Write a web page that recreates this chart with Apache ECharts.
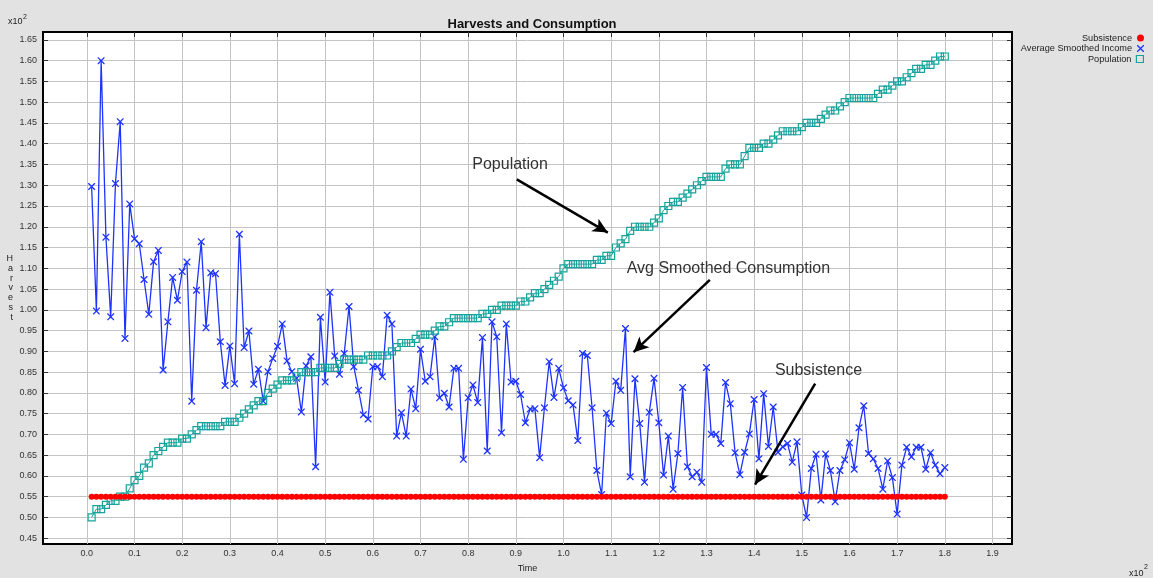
<!DOCTYPE html>
<html>
<head>
<meta charset="utf-8">
<title>Harvests and Consumption</title>
<script src="https://cdn.jsdelivr.net/npm/echarts@6.0.0/dist/echarts.min.js"></script>
<style>
  html, body { margin: 0; padding: 0; background: #e2e2e2; }
  #harvests { width: 1153px; height: 578px; }
</style>
</head>
<body>
<div id="harvests"></div>
<script>
// tick labels (axis units are x10^2)
const xTicks = [0, 0.1, 0.2, 0.3, 0.4, 0.5, 0.6, 0.7, 0.8, 0.9, 1.0, 1.1, 1.2, 1.3, 1.4, 1.5, 1.6, 1.7, 1.8, 1.9];
const yTicks = [0.45, 0.5, 0.55, 0.6, 0.65, 0.7, 0.75, 0.8, 0.85, 0.9, 0.95, 1.0, 1.05, 1.1, 1.15, 1.2, 1.25,
  1.3, 1.35, 1.4, 1.45, 1.5, 1.55, 1.6, 1.65];

// one sample per time step, t = 1..180 (x10^2 -> 0.01..1.80)
const TIME_STEP = 0.01;
const SUBSISTENCE_LEVEL = 0.55;

const avgSmoothedIncome = [
  1.297, 0.997, 1.600, 1.175, 0.983, 1.304, 1.453, 0.931, 1.255, 1.171,
  1.159, 1.073, 0.989, 1.116, 1.143, 0.855, 0.971, 1.078, 1.023, 1.092,
  1.115, 0.780, 1.047, 1.164, 0.957, 1.089, 1.087, 0.923, 0.818, 0.913,
  0.822, 1.182, 0.909, 0.949, 0.821, 0.857, 0.780, 0.851, 0.883, 0.912,
  0.966, 0.877, 0.851, 0.835, 0.754, 0.865, 0.887, 0.622, 0.982, 0.826,
  1.042, 0.889, 0.845, 0.895, 1.008, 0.863, 0.806, 0.747, 0.737, 0.863,
  0.863, 0.839, 0.987, 0.966, 0.696, 0.752, 0.696, 0.809, 0.762, 0.905,
  0.828, 0.839, 0.935, 0.788, 0.799, 0.766, 0.859, 0.859, 0.640, 0.788,
  0.819, 0.777, 0.933, 0.660, 0.971, 0.935, 0.704, 0.966, 0.826, 0.828,
  0.796, 0.728, 0.761, 0.762, 0.644, 0.764, 0.875, 0.789, 0.859, 0.812,
  0.781, 0.771, 0.685, 0.895, 0.890, 0.764, 0.613, 0.555, 0.751, 0.726,
  0.828, 0.806, 0.955, 0.598, 0.834, 0.726, 0.585, 0.753, 0.835, 0.728,
  0.602, 0.696, 0.568, 0.654, 0.813, 0.622, 0.598, 0.609, 0.585, 0.861,
  0.700, 0.700, 0.678, 0.825, 0.774, 0.656, 0.603, 0.657, 0.701, 0.784,
  0.641, 0.798, 0.671, 0.766, 0.657, 0.670, 0.678, 0.633, 0.682, 0.554,
  0.500, 0.618, 0.652, 0.542, 0.653, 0.613, 0.538, 0.613, 0.639, 0.680,
  0.616, 0.716, 0.769, 0.654, 0.641, 0.618, 0.568, 0.636, 0.596, 0.508,
  0.626, 0.669, 0.646, 0.669, 0.669, 0.616, 0.656, 0.626, 0.605, 0.620
];

const population = [
  0.50, 0.52, 0.52, 0.53, 0.54, 0.54, 0.55, 0.55, 0.57, 0.59,
  0.60, 0.62, 0.63, 0.65, 0.66, 0.67, 0.68, 0.68, 0.68, 0.69,
  0.69, 0.70, 0.71, 0.72, 0.72, 0.72, 0.72, 0.72, 0.73, 0.73,
  0.73, 0.74, 0.75, 0.76, 0.77, 0.78, 0.78, 0.80, 0.81, 0.82,
  0.83, 0.83, 0.83, 0.84, 0.85, 0.85, 0.85, 0.85, 0.86, 0.86,
  0.86, 0.86, 0.87, 0.88, 0.88, 0.88, 0.88, 0.88, 0.89, 0.89,
  0.89, 0.89, 0.89, 0.90, 0.91, 0.92, 0.92, 0.92, 0.93, 0.94,
  0.94, 0.94, 0.95, 0.96, 0.96, 0.97, 0.98, 0.98, 0.98, 0.98,
  0.98, 0.98, 0.99, 0.99, 1.00, 1.00, 1.01, 1.01, 1.01, 1.01,
  1.02, 1.02, 1.03, 1.04, 1.04, 1.05, 1.06, 1.07, 1.08, 1.10,
  1.11, 1.11, 1.11, 1.11, 1.11, 1.11, 1.12, 1.12, 1.13, 1.13,
  1.15, 1.16, 1.17, 1.19, 1.20, 1.20, 1.20, 1.20, 1.21, 1.22,
  1.24, 1.25, 1.26, 1.26, 1.27, 1.28, 1.29, 1.30, 1.31, 1.32,
  1.32, 1.32, 1.32, 1.34, 1.35, 1.35, 1.35, 1.37, 1.39, 1.39,
  1.39, 1.40, 1.40, 1.41, 1.42, 1.43, 1.43, 1.43, 1.43, 1.44,
  1.45, 1.45, 1.45, 1.46, 1.47, 1.48, 1.48, 1.49, 1.50, 1.51,
  1.51, 1.51, 1.51, 1.51, 1.51, 1.52, 1.53, 1.53, 1.54, 1.55,
  1.55, 1.56, 1.57, 1.58, 1.58, 1.59, 1.59, 1.60, 1.61, 1.61
];

// annotation texts and arrows, in data coordinates
const noteTexts = ['Population', 'Avg Smoothed Consumption', 'Subsistence'];
const noteAt = [[0.888, 1.349], [1.346, 1.100], [1.535, 0.854]];
const arrowFrom = [[0.902, 1.314], [1.307, 1.072], [1.528, 0.822]];
const arrowTo = [[1.093, 1.186], [1.147, 0.898], [1.402, 0.579]];

const RED = '#ff0000';
const BLUE = '#1f33ff';
const TEAL = '#17a39b';
const X_MARK = 'path://M0,0L1.3,0L5,3.7L8.7,0L10,0L10,1.3L6.3,5L10,8.7L10,10L8.7,10L5,6.3L1.3,10L0,10L0,8.7L3.7,5L0,1.3Z';
const FONT = 'Liberation Sans';

const toPoints = values => values.map((v, i) => [+((i + 1) * TIME_STEP).toFixed(2), v]);
const subsistence = avgSmoothedIncome.map(() => SUBSISTENCE_LEVEL);

function legendFor(name, icon, itemStyle, top) {
  return {
    orient: 'vertical',
    right: 9,
    top: top,
    align: 'right',
    itemWidth: 7,
    itemHeight: 7,
    padding: 0,
    textStyle: { fontSize: 9.2, color: '#222', fontFamily: FONT, lineHeight: 10 },
    data: [{ name: name, icon: icon, itemStyle: itemStyle }]
  };
}

function draw(id, option) {
  let chart = echarts.init(document.getElementById(id));
  chart.setOption(option);
}

draw('harvests', {
  animation: false,
  backgroundColor: '#e2e2e2',
  textStyle: { fontFamily: FONT },
  title: {
    text: 'Harvests and Consumption',
    left: 527,
    top: 13,
    textAlign: 'center',
    textStyle: { fontSize: 13, fontWeight: 'bold', color: '#111', fontFamily: FONT }
  },
  legend: [
    legendFor('Subsistence', 'circle', { color: RED }, 33),
    legendFor('Average Smoothed Income', X_MARK, { color: BLUE }, 43.5),
    legendFor('Population', 'rect', { color: 'rgba(0,0,0,0)', borderColor: TEAL, borderWidth: 1.2 }, 54)
  ],
  graphic: [
    { type: 'text', left: 8, top: 17, style: { text: 'x10', fontSize: 9, fill: '#222', fontFamily: FONT } },
    { type: 'text', left: 23, top: 14, style: { text: '2', fontSize: 7, fill: '#222', fontFamily: FONT } },
    { type: 'text', left: 1129, top: 569, style: { text: 'x10', fontSize: 9, fill: '#222', fontFamily: FONT } },
    { type: 'text', left: 1144, top: 564, style: { text: '2', fontSize: 7, fill: '#222', fontFamily: FONT } }
  ],
  grid: {
    left: 43,
    right: 141,
    top: 32,
    bottom: 31,
    show: true,
    backgroundColor: '#fff',
    borderColor: '#000',
    borderWidth: 2
  },
  xAxis: [
    {
      type: 'value',
      min: -0.092,
      max: 1.941,
      name: 'Time',
      nameLocation: 'middle',
      nameGap: 20,
      nameTextStyle: { fontSize: 9, color: '#222' },
      axisLine: { show: false, onZero: false },
      axisTick: { show: false, customValues: xTicks },
      axisLabel: {
        customValues: xTicks,
        formatter: v => v.toFixed(1),
        fontSize: 9,
        color: '#333',
        margin: 5
      },
      splitLine: { show: true, lineStyle: { color: '#c4c4c4', width: 1 } }
    },
    {
      // ticks along the top edge
      type: 'value',
      position: 'top',
      min: -0.092,
      max: 1.941,
      axisLine: { show: false, onZero: false },
      axisTick: { show: true, inside: true, length: 5, customValues: xTicks, lineStyle: { color: '#333' } },
      axisLabel: { show: false },
      splitLine: { show: false }
    }
  ],
  yAxis: [
    {
      type: 'value',
      min: 0.436,
      max: 1.669,
      name: 'H\na\nr\nv\ne\ns\nt',
      nameLocation: 'middle',
      nameRotate: 0,
      nameGap: 30,
      nameTextStyle: { fontSize: 9, color: '#222', lineHeight: 9.8 },
      axisLine: { show: false, onZero: false },
      axisTick: { show: true, inside: true, length: 5, customValues: yTicks, lineStyle: { color: '#333' } },
      axisLabel: {
        customValues: yTicks,
        formatter: v => v.toFixed(2),
        fontSize: 9,
        color: '#333',
        margin: 6
      },
      splitLine: { show: true, lineStyle: { color: '#c4c4c4', width: 1 } }
    },
    {
      // ticks along the right edge
      type: 'value',
      position: 'right',
      min: 0.436,
      max: 1.669,
      axisLine: { show: false, onZero: false },
      axisTick: { show: true, inside: true, length: 5, customValues: yTicks, lineStyle: { color: '#333' } },
      axisLabel: { show: false },
      splitLine: { show: false }
    }
  ],
  series: [
    {
      name: 'Subsistence',
      type: 'line',
      data: toPoints(subsistence),
      symbol: 'circle',
      symbolSize: 6,
      showAllSymbol: true,
      itemStyle: { color: RED },
      lineStyle: { color: RED, width: 1 },
      z: 4,
      markLine: {
        silent: true,
        symbol: ['none', 'arrow'],
        symbolSize: [11, 15],
        label: { show: false },
        lineStyle: { color: '#000', width: 2.5, type: 'solid' },
        data: arrowFrom.map((from, i) => [{ coord: from }, { coord: arrowTo[i] }])
      },
      markPoint: {
        silent: true,
        symbol: 'circle',
        symbolSize: 1,
        itemStyle: { color: 'rgba(0,0,0,0)' },
        label: {
          show: true,
          position: 'inside',
          formatter: p => p.name,
          fontSize: 16,
          color: '#333',
          fontFamily: FONT
        },
        data: noteTexts.map((text, i) => ({ name: text, coord: noteAt[i] }))
      }
    },
    {
      name: 'Average Smoothed Income',
      type: 'line',
      data: toPoints(avgSmoothedIncome),
      symbol: X_MARK,
      symbolSize: 7,
      showAllSymbol: true,
      itemStyle: { color: BLUE },
      lineStyle: { color: BLUE, width: 1.3 },
      z: 3
    },
    {
      name: 'Population',
      type: 'line',
      data: toPoints(population),
      symbol: 'rect',
      symbolSize: 7,
      showAllSymbol: true,
      itemStyle: { color: 'rgba(0,0,0,0)', borderColor: TEAL, borderWidth: 1.2 },
      lineStyle: { color: TEAL, width: 1 },
      z: 3
    }
  ]
});
</script>
</body>
</html>
